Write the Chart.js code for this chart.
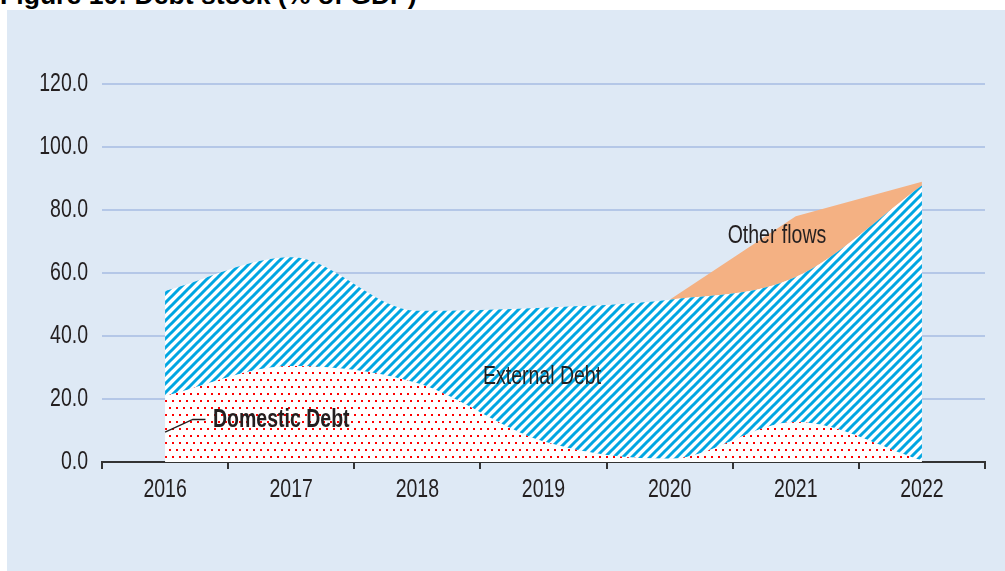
<!DOCTYPE html>
<html>
<head>
<meta charset="utf-8">
<script src="https://cdn.jsdelivr.net/npm/chart.js@4.4.1/dist/chart.umd.min.js"></script>
<style>
    html, body { margin: 0; padding: 0; background: #fff; }
    #wrap { position: relative; width: 1005px; height: 571px; overflow: hidden; }
    #title {
        position: absolute; left: 0; top: -18px;
        font: bold 26.6px "Liberation Sans", Arial, sans-serif; line-height: 26px;
        color: #000; white-space: nowrap;
    }
    #panel { position: absolute; left: 7px; top: 10px; width: 998px; height: 561px; background: #dee9f5; }
    #chart { position: absolute; left: 0; top: 0; }
</style>
</head>
<body>
<div id="wrap">
    <div id="title">Figure 10: Debt stock (% of GDP)</div>
    <div id="panel"></div>
    <canvas id="chart" width="1005" height="571"></canvas>
</div>
<script>
const years       = ["2016", "2017", "2018", "2019", "2020", "2021", "2022"];
const domestic    = [21, 30.5, 25, 6.5, 1, 12.7, 0.5];
const external    = [33.3, 34.5, 23, 42.5, 50.5, 46, 87.3];
const otherFlows  = [null, null, null, null, 0, 19.3, 1.2];

// the original uses a narrow Arial; no narrow face is installed, so text is squeezed
const FONT = "'Liberation Sans', Arial, sans-serif";
const SIZE = 25;
const SQUEEZE = 0.78;
const TEXT = '#231f20';

function narrowText(ctx, str, x, y, align, bold) {
    ctx.save();
    ctx.font = (bold ? 'bold ' : '') + SIZE + 'px ' + FONT;
    ctx.fillStyle = TEXT;
    ctx.textAlign = align;
    ctx.textBaseline = 'middle';
    ctx.translate(x, y);
    ctx.scale(SQUEEZE, 1);
    ctx.fillText(str, 0, 0);
    ctx.restore();
}

function stripes() {
    const s = 9;
    const c = document.createElement('canvas');
    c.width = s; c.height = s;
    const g = c.getContext('2d');
    g.fillStyle = '#fff';
    g.fillRect(0, 0, s, s);
    g.strokeStyle = '#00a6e2';
    g.lineWidth = 3;
    g.beginPath();
    g.moveTo(-2, s + 2); g.lineTo(s + 2, -2);
    g.moveTo(-2, 2); g.lineTo(2, -2);
    g.moveTo(s - 2, s + 2); g.lineTo(s + 2, s - 2);
    g.stroke();
    return g.createPattern(c, 'repeat');
}

function dots() {
    const c = document.createElement('canvas');
    c.width = 7; c.height = 14;
    const g = c.getContext('2d');
    g.fillStyle = '#fff';
    g.fillRect(0, 0, 7, 14);
    g.fillStyle = '#ff0000';
    g.fillRect(1, 1, 2, 2);
    g.fillRect(4, 8, 2, 2);
    return g.createPattern(c, 'repeat');
}

// tick labels redrawn squeezed at the positions the scales give
const narrowTicks = {
    id: 'narrowTicks',
    afterDraw(chart) {
        const {ctx, scales: {x, y}} = chart;
        y.ticks.forEach((t, i) => {
            narrowText(ctx, t.label, y.right - y.options.ticks.padding, y.getPixelForTick(i), 'right');
        });
        const ty = x.top + x.options.grid.tickLength + x.options.ticks.padding + SIZE / 2;
        x.ticks.forEach((t, i) => {
            narrowText(ctx, t.label, x.getPixelForTick(i), ty, 'center');
        });
    }
};

// labels placed in data coordinates (category index, value)
const annotations = {
    id: 'annotations',
    afterDatasetsDraw(chart) {
        const {ctx, scales: {x, y}} = chart;
        ctx.save();
        ctx.strokeStyle = TEXT;
        ctx.lineWidth = 1.3;
        ctx.beginPath();
        ctx.moveTo(x.getPixelForValue(0), y.getPixelForValue(9.5));
        ctx.lineTo(x.getPixelForValue(0.22), y.getPixelForValue(13.5));
        ctx.lineTo(x.getPixelForValue(0.32), y.getPixelForValue(13.5));
        ctx.stroke();
        ctx.restore();

        narrowText(ctx, 'Domestic Debt', x.getPixelForValue(0.38), y.getPixelForValue(13.3), 'left', true);
        narrowText(ctx, 'External Debt', x.getPixelForValue(2.52), y.getPixelForValue(27), 'left');
        narrowText(ctx, 'Other flows', x.getPixelForValue(4.46), y.getPixelForValue(71.7), 'left');
    }
};

const ctx = document.getElementById('chart').getContext('2d');
new Chart(ctx, {
    type: 'line',
    data: {
        labels: years,
        datasets: [{
            label: 'Domestic Debt',
            data: domestic,
            fill: 'origin',
            backgroundColor: dots(),
            borderColor: 'transparent',
            borderWidth: 0,
            cubicInterpolationMode: 'monotone',
        }, {
            label: 'External Debt',
            data: external,
            fill: '-1',
            backgroundColor: stripes(),
            borderColor: 'transparent',
            borderWidth: 0,
            cubicInterpolationMode: 'monotone',
        }, {
            label: 'Other flows',
            data: otherFlows,
            fill: '-1',
            backgroundColor: '#f4b183',
            borderColor: 'transparent',
            borderWidth: 0,
            tension: 0,
            spanGaps: false,
        }],
    },
    options: {
        responsive: false,
        animation: false,
        layout: {
            padding: { left: 0, right: 20, top: 84, bottom: 54 },
        },
        elements: { point: { radius: 0, hoverRadius: 0 } },
        plugins: {
            legend: { display: false },
            tooltip: { enabled: false },
        },
        scales: {
            x: {
                offset: true,
                afterFit(scale) { scale.height = 55; },
                grid: {
                    offset: true,
                    drawOnChartArea: false,
                    tickLength: 7,
                    color: '#333',
                    lineWidth: 2,
                },
                border: { display: true, color: '#333', width: 2 },
                ticks: { color: 'transparent', padding: 9, font: { family: FONT, size: SIZE } },
            },
            y: {
                stacked: true,
                min: 0,
                max: 120,
                afterFit(scale) { scale.width = 102; },
                grid: { color: '#b4c7e7', lineWidth: 2, drawTicks: false },
                border: { display: false },
                ticks: {
                    stepSize: 20,
                    padding: 14,
                    color: 'transparent',
                    font: { family: FONT, size: SIZE },
                    callback: v => v.toFixed(1),
                },
            },
        },
    },
    plugins: [annotations, narrowTicks],
});
</script>
</body>
</html>
